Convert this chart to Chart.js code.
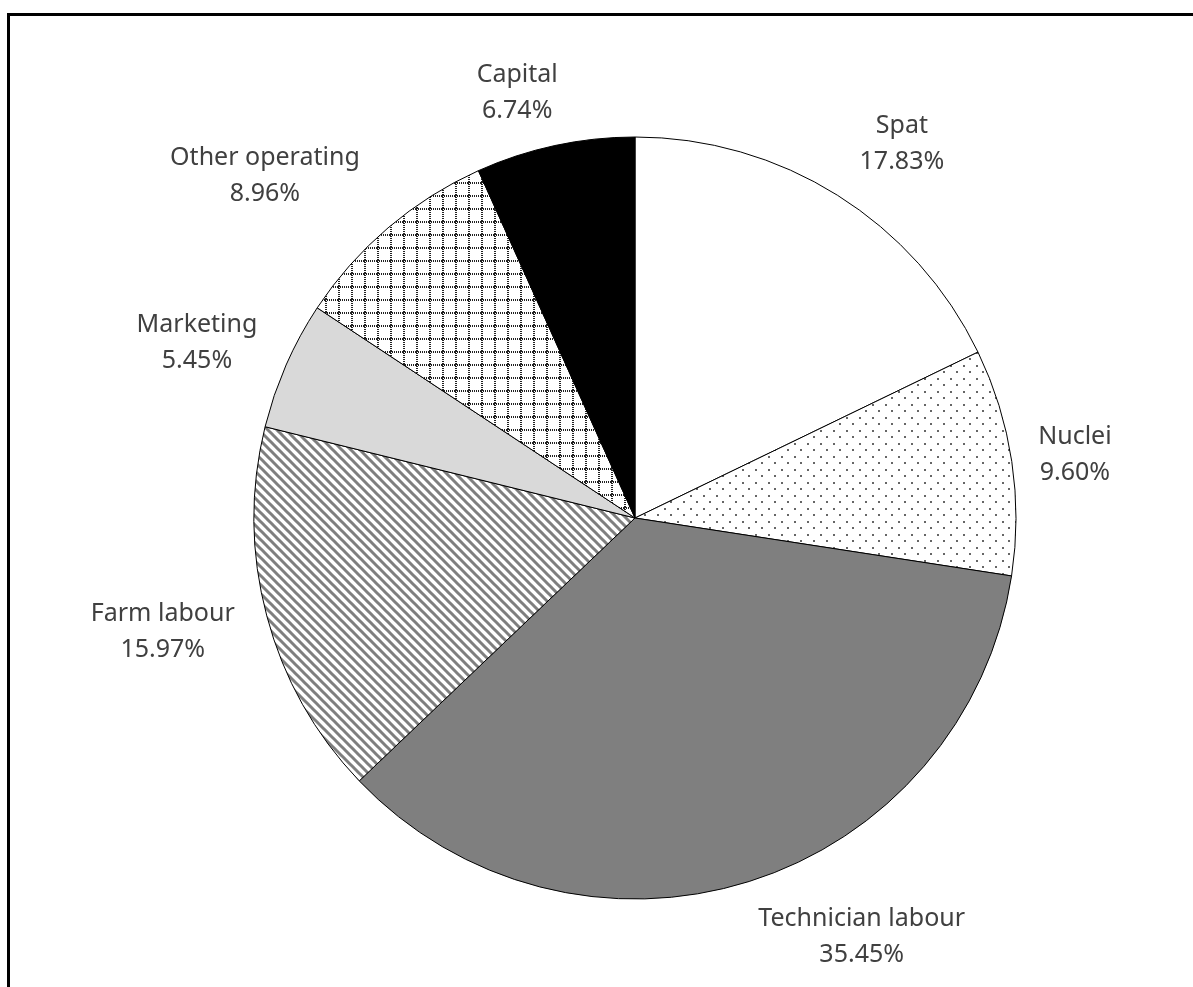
<!DOCTYPE html>
<html>
<head>
<meta charset="utf-8">
<script src="https://cdn.jsdelivr.net/npm/chart.js@4"></script>
<style>
  html, body { margin: 0; padding: 0; background: #fff; overflow: hidden; }
  .frame { position: absolute; left: 7px; top: 13px; width: 1300px; height: 1100px; border: 3px solid #000; }
  .wrap { position: absolute; left: 0; top: 0; width: 1193px; height: 987px; }
</style>
</head>
<body>
<div class="frame"></div>
<div class="wrap"><canvas id="costChart" width="1193" height="987"></canvas></div>
<script>
// cost shares (%), clockwise from 12 o'clock
const categories = ["Spat", "Nuclei", "Technician labour", "Farm labour", "Marketing", "Other operating", "Capital"];
const shares = [17.83, 9.60, 35.45, 15.97, 5.45, 8.96, 6.74];

// small repeating tiles for the hatched slices
const makeTile = (w, h, paint) => {
    const c = document.createElement("canvas");
    c.width = w;
    c.height = h;
    const g = c.getContext("2d");
    g.fillStyle = "#fff";
    g.fillRect(0, 0, w, h);
    paint(g);
    return g.createPattern(c, "repeat");
};

const dotFill = makeTile(13, 13, (g) => {
    g.fillStyle = "#666";
    g.fillRect(1, 1, 2, 2);
    g.fillRect(7, 7, 2, 2);
});

const stripeFill = makeTile(9, 9, (g) => {
    g.strokeStyle = "#7f7f7f";
    g.lineWidth = 3;
    [-9, 0, 9].forEach((k) => {
        g.beginPath();
        g.moveTo(k - 2, -2);
        g.lineTo(k + 11, 11);
        g.stroke();
    });
});

const gridFill = makeTile(13, 13, (g) => {
    g.fillStyle = "#222";
    for (let i = 0; i < 13; i += 2) {
        g.fillRect(i, 0, 1, 2);
        g.fillRect(0, i, 2, 1);
    }
});

const sliceFills = ["#ffffff", dotFill, "#7f7f7f", stripeFill, "#d9d9d9", gridFill, "#000000"];

// two-line labels (name + share) outside each slice
const outsideLabels = {
    id: "outsideLabels",
    afterDatasetsDraw(chart, args, opts) {
        const { ctx } = chart;
        const arcs = chart.getDatasetMeta(0).data;
        ctx.save();
        ctx.font = opts.font;
        ctx.fillStyle = opts.color;
        ctx.textAlign = "center";
        ctx.textBaseline = "middle";
        arcs.forEach((arc, i) => {
            const { x, y, startAngle, endAngle, outerRadius } =
                arc.getProps(["x", "y", "startAngle", "endAngle", "outerRadius"], true);
            const mid = (startAngle + endAngle) / 2;
            const dx = Math.cos(mid);
            const dy = Math.sin(mid);
            const lines = [categories[i], shares[i].toFixed(2) + "%"];
            const w = Math.max(...lines.map((t) => ctx.measureText(t).width));
            const h = opts.lineHeight * 1.5;
            const nudge = opts.nudge[i] || [0, 0];
            const cx = x + dx * (outerRadius + opts.gap + w / 2) + nudge[0];
            const cy = y + dy * (outerRadius + opts.gap + h / 2) + nudge[1];
            lines.forEach((t, k) => ctx.fillText(t, cx, cy + (k - 0.5) * opts.lineHeight));
        });
        ctx.restore();
    }
};

let myChart = new Chart(document.getElementById("costChart"), {
    type: "pie",
    data: {
        labels: categories,
        datasets: [{
            data: shares,
            backgroundColor: sliceFills,
            borderColor: "#000",
            borderWidth: 1,
            radius: 381
        }]
    },
    options: {
        responsive: false,
        animation: false,
        layout: { padding: { left: 77, top: 49, right: 0, bottom: 0 } },
        plugins: {
            legend: { display: false },
            tooltip: { enabled: false },
            outsideLabels: {
                font: "25px 'Noto Sans'",
                color: "#404040",
                lineHeight: 36,
                gap: 15,
                nudge: [[34, -16], [12, 0], [77, 15], [-20, 5], [-20, -5], [-52, -20], [-26, -12]]
            }
        }
    },
    plugins: [outsideLabels]
});
</script>
</body>
</html>
